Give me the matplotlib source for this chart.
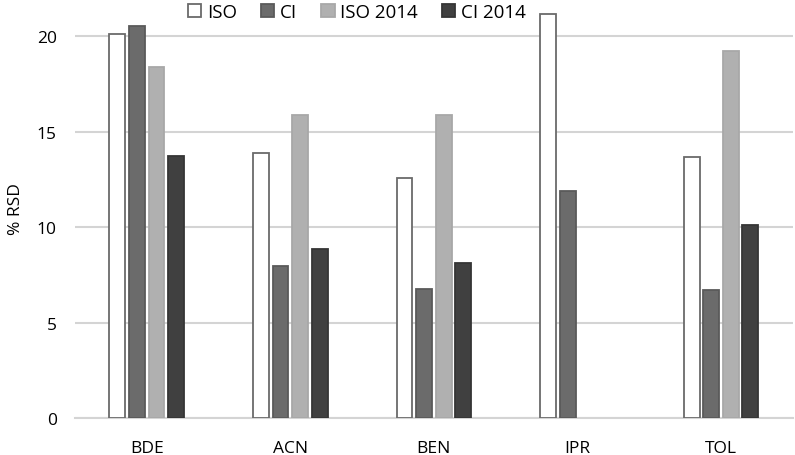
import numpy as np
import matplotlib.pyplot as plt
from matplotlib.patches import Patch

# данные
categories = ['BDE', 'ACN', 'BEN', 'IPR', 'TOL']
series = ['ISO', 'CI', 'ISO 2014', 'CI 2014']
iso = [20.1, 13.9, 12.6, 21.2, 13.7]
ci = [20.55, 7.95, 6.78, 11.9, 6.7]
iso_2014 = [18.4, 15.86, 15.86, np.nan, 19.22]
ci_2014 = [13.72, 8.84, 8.12, np.nan, 10.12]

values = [iso, ci, iso_2014, ci_2014]
faces = ['white', '#6b6b6b', '#b0b0b0', '#404040']
edges = ['#6a6a6a', '#5a5a5a', '#a8a8a8', '#353535']

plt.rcParams['font.family'] = ['Open Sans', 'DejaVu Sans']

fig = plt.figure(figsize=(7.95, 4.56), dpi=100)
ax = fig.add_axes([0.0943, 0.0811, 0.9027, 0.9189])

x = np.arange(len(categories))
step = 0.136
width = 0.111
for i, (vals, fc, ec) in enumerate(zip(values, faces, edges)):
    ax.bar(x + (i - 1.5) * step, vals, width, color=fc, edgecolor=ec,
           linewidth=1.3, zorder=3, label=series[i])

ax.set_xlim(-0.5, 4.5)
ax.set_ylim(0, 21.96)
ax.set_yticks([0, 5, 10, 15, 20])
ax.set_xticks(x)
ax.set_xticklabels(categories)
ax.yaxis.grid(True, color='#d4d4d4', linewidth=1.5, zorder=0)
for s in ['top', 'right', 'left']:
    ax.spines[s].set_visible(False)
ax.spines['bottom'].set_color('#d4d4d4')
ax.spines['bottom'].set_linewidth(1.5)
ax.tick_params(axis='both', length=0, labelsize=12.5, colors='black')
ax.tick_params(axis='x', pad=16)
ax.tick_params(axis='y', pad=13)
ax.set_ylabel('% RSD', fontsize=12.5, labelpad=9)

handles = [Patch(facecolor=fc, edgecolor=ec, linewidth=1.3) for fc, ec in zip(faces, edges)]
fig.legend(handles, series, loc='center', bbox_to_anchor=(0.449, 0.972),
           ncol=4, frameon=False, fontsize=13.5, handlelength=0.7,
           handleheight=0.7, handletextpad=0.3, columnspacing=1.3)

fig.savefig('out.png', dpi=100)
